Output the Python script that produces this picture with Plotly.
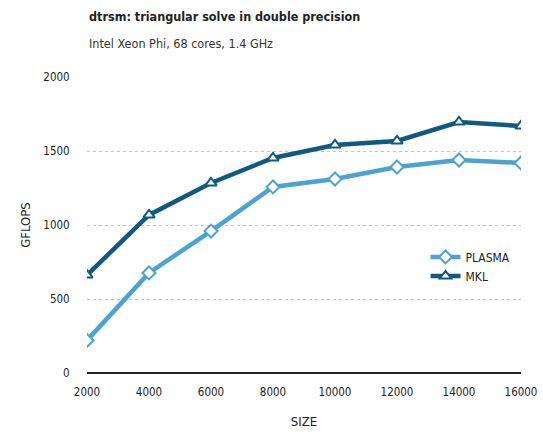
import plotly.graph_objects as go

sizes = [2000, 4000, 6000, 8000, 10000, 12000, 14000, 16000]
plasma = [220, 676, 959, 1257, 1311, 1392, 1439, 1419]
mkl = [662, 1068, 1284, 1453, 1541, 1568, 1696, 1669]
x_ticks = [2000, 4000, 6000, 8000, 10000, 12000, 14000, 16000]
x_labels = ["2000", "4000", "6000", "8000", "10000", "12000", "14000", "16000"]
y_ticks = [0, 500, 1000, 1500, 2000]
y_labels = ["0", "500", "1000", "1500", "2000"]

FONT = "DejaVu Sans Condensed, Liberation Sans Narrow, sans-serif"
c_plasma = "#4ba3d1"
c_mkl = "#0f5b7f"

fig = go.Figure()
fig.add_trace(go.Scatter(
    x=sizes, y=plasma, name="PLASMA", mode="lines+markers",
    line=dict(color=c_plasma, width=4.5),
    marker=dict(symbol="diamond", size=10, color="white",
                line=dict(color=c_plasma, width=2)),
))
fig.add_trace(go.Scatter(
    x=sizes, y=mkl, name="MKL", mode="lines+markers",
    line=dict(color=c_mkl, width=4.5),
    marker=dict(symbol="triangle-up", size=10, color="white",
                line=dict(color=c_mkl, width=2)),
))

fig.update_layout(
    width=543, height=436,
    margin=dict(l=87, r=22, t=77, b=63, autoexpand=False),
    paper_bgcolor="white", plot_bgcolor="white",
    font=dict(family=FONT, size=11.5, color="#222"),
    showlegend=True,
    legend=dict(x=0.78, y=0.36, xanchor="left", yanchor="middle",
                bgcolor="rgba(0,0,0,0)", font=dict(size=12),
                itemwidth=30, tracegroupgap=0),
    xaxis=dict(range=[2000, 16000], tickvals=x_ticks, ticktext=x_labels,
               showgrid=False, zeroline=False, showline=False,
               ticks="outside", ticklen=8, tickcolor="rgba(0,0,0,0)",
               title=dict(text="SIZE", standoff=19, font=dict(size=13))),
    yaxis=dict(range=[0, 2000], tickvals=y_ticks, ticktext=y_labels,
               showgrid=True, gridcolor="#c4c4c4", griddash="dot", gridwidth=1,
               zeroline=True, zerolinecolor="#222", zerolinewidth=1.5,
               ticks="outside", ticklen=14, tickcolor="rgba(0,0,0,0)",
               showline=False,
               title=dict(text="GFLOPS", standoff=9, font=dict(size=13))),
    annotations=[
        dict(text="<b>dtrsm: triangular solve in double precision</b>",
             xref="paper", yref="paper", x=0, y=1, yshift=61,
             xanchor="left", yanchor="middle", showarrow=False,
             font=dict(size=12.5, color="#222")),
        dict(text="Intel Xeon Phi, 68 cores, 1.4 GHz",
             xref="paper", yref="paper", x=0, y=1, yshift=34,
             xanchor="left", yanchor="middle", showarrow=False,
             font=dict(size=12.5, color="#333")),
    ],
)

fig.write_html("out.html",
               config={"displayModeBar": False},
               post_script="document.body.style.margin='0';document.body.style.overflow='hidden';")
